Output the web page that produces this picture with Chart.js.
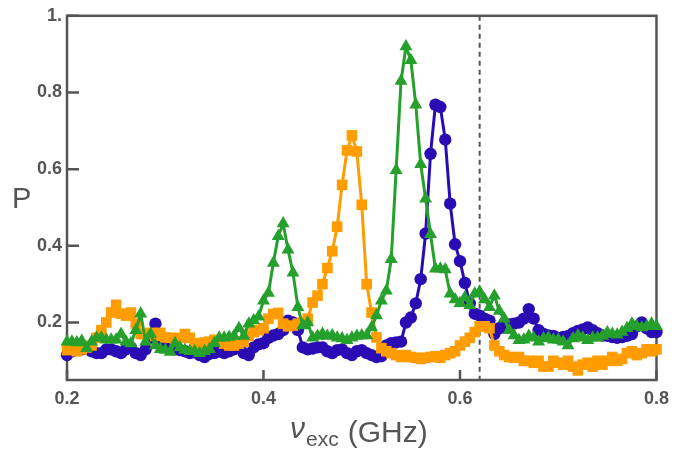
<!DOCTYPE html>
<html>
<head>
<meta charset="utf-8">
<script src="https://cdn.jsdelivr.net/npm/chart.js@4.4.0/dist/chart.umd.min.js"></script>
<style>
  html, body { margin: 0; padding: 0; background: #fff; }
  #wrap { width: 677px; height: 452px; }
</style>
</head>
<body>
<div id="wrap"><canvas id="myChart" width="677" height="452"></canvas></div>
<script>
// excitation frequency (GHz)
const freq = [
  0.200,0.205,0.210,0.215,0.220,0.225,0.230,0.235,0.240,0.245,
  0.250,0.255,0.260,0.265,0.270,0.275,0.280,0.285,0.290,0.295,
  0.300,0.305,0.310,0.315,0.320,0.325,0.330,0.335,0.340,0.345,
  0.350,0.355,0.360,0.365,0.370,0.375,0.380,0.385,0.390,0.395,
  0.400,0.405,0.410,0.415,0.420,0.425,0.430,0.435,0.440,0.445,
  0.450,0.455,0.460,0.465,0.470,0.475,0.480,0.485,0.490,0.495,
  0.500,0.505,0.510,0.515,0.520,0.525,0.530,0.535,0.540,0.545,
  0.550,0.555,0.560,0.565,0.570,0.575,0.580,0.585,0.590,0.595,
  0.600,0.605,0.610,0.615,0.620,0.625,0.630,0.635,0.640,0.645,
  0.650,0.655,0.660,0.665,0.670,0.675,0.680,0.685,0.690,0.695,
  0.700,0.705,0.710,0.715,0.720,0.725,0.730,0.735,0.740,0.745,
  0.750,0.755,0.760,0.765,0.770,0.775,0.780,0.785,0.790,0.795,
  0.800
];

const blueP = [
  0.115,0.125,0.133,0.130,0.133,0.125,0.120,0.120,0.130,0.130,
  0.125,0.120,0.130,0.135,0.120,0.115,0.130,0.160,0.197,0.150,
  0.140,0.133,0.130,0.128,0.125,0.120,0.122,0.115,0.110,0.118,
  0.120,0.125,0.120,0.125,0.130,0.135,0.120,0.115,0.135,0.143,
  0.146,0.160,0.166,0.170,0.180,0.205,0.200,0.180,0.135,0.130,
  0.132,0.135,0.135,0.125,0.120,0.128,0.130,0.120,0.115,0.125,
  0.128,0.120,0.115,0.110,0.112,0.140,0.146,0.148,0.150,0.200,
  0.213,0.250,0.313,0.432,0.640,0.768,0.762,0.677,0.510,0.404,
  0.360,0.303,0.250,0.223,0.218,0.210,0.205,0.170,0.185,0.197,
  0.195,0.197,0.200,0.210,0.235,0.210,0.180,0.170,0.166,0.165,
  0.160,0.162,0.165,0.172,0.178,0.182,0.187,0.180,0.172,0.166,
  0.165,0.162,0.160,0.162,0.165,0.170,0.190,0.200,0.185,0.175,
  0.175
];

const orangeP = [
  0.128,0.130,0.125,0.130,0.135,0.140,0.160,0.180,0.200,0.226,
  0.246,0.223,0.218,0.226,0.197,0.170,0.170,0.173,0.165,0.173,
  0.161,0.160,0.154,0.160,0.170,0.160,0.146,0.140,0.148,0.150,
  0.155,0.150,0.145,0.140,0.140,0.145,0.150,0.165,0.175,0.180,
  0.185,0.210,0.222,0.225,0.197,0.190,0.192,0.197,0.200,0.210,
  0.252,0.270,0.300,0.342,0.386,0.450,0.559,0.649,0.688,0.646,
  0.507,0.300,0.226,0.161,0.133,0.125,0.120,0.115,0.110,0.115,
  0.110,0.108,0.105,0.108,0.110,0.112,0.108,0.115,0.120,0.125,
  0.140,0.150,0.160,0.175,0.190,0.190,0.185,0.140,0.125,0.115,
  0.110,0.108,0.110,0.100,0.100,0.095,0.100,0.085,0.085,0.100,
  0.095,0.090,0.100,0.085,0.075,0.090,0.095,0.085,0.100,0.090,
  0.100,0.110,0.100,0.105,0.120,0.125,0.115,0.120,0.130,0.125,
  0.130
];

const greenP = [
  0.150,0.150,0.148,0.152,0.133,0.150,0.160,0.160,0.155,0.155,
  0.155,0.170,0.150,0.145,0.180,0.223,0.150,0.170,0.140,0.130,
  0.128,0.123,0.146,0.135,0.128,0.125,0.125,0.120,0.125,0.130,
  0.146,0.160,0.160,0.162,0.165,0.185,0.165,0.197,0.205,0.215,
  0.257,0.277,0.355,0.425,0.458,0.390,0.330,0.240,0.192,0.200,
  0.160,0.165,0.170,0.165,0.166,0.160,0.158,0.154,0.160,0.165,
  0.166,0.166,0.187,0.218,0.257,0.283,0.365,0.597,0.830,0.920,
  0.884,0.768,0.613,0.523,0.430,0.340,0.340,0.338,0.275,0.260,
  0.250,0.265,0.245,0.275,0.280,0.260,0.240,0.270,0.230,0.210,
  0.180,0.166,0.154,0.155,0.165,0.160,0.150,0.158,0.160,0.155,
  0.155,0.150,0.140,0.158,0.166,0.160,0.154,0.160,0.160,0.165,
  0.174,0.170,0.168,0.175,0.185,0.197,0.190,0.187,0.190,0.197,
  0.190
];

const xTicks = [0.2, 0.4, 0.6, 0.8];
const yTicks = [0.2, 0.4, 0.6, 0.8, 1.0];
const cutoff = 0.62;

const axisColor = '#555555';

function pts(vals) {
  return freq.map((f, i) => ({ x: f, y: vals[i] }));
}

// frame, inward ticks and the dashed marker line
const framePlugin = {
  id: 'frame',
  beforeDatasetsDraw(chart) {
    const { ctx, chartArea: a, scales } = chart;
    const x = scales.x, y = scales.y;
    ctx.save();
    ctx.strokeStyle = axisColor;
    ctx.lineWidth = 2.5;
    ctx.strokeRect(a.left, a.top, a.right - a.left, a.bottom - a.top);
    ctx.beginPath();
    yTicks.forEach(v => {
      const py = y.getPixelForValue(v);
      ctx.moveTo(a.left, py);
      ctx.lineTo(a.left + 12, py);
    });
    xTicks.forEach(v => {
      const px = x.getPixelForValue(v);
      ctx.moveTo(px, a.bottom);
      ctx.lineTo(px, a.bottom - 10);
    });
    ctx.stroke();

    ctx.setLineDash([5, 4]);
    ctx.lineWidth = 2;
    const cx = x.getPixelForValue(cutoff);
    ctx.beginPath();
    ctx.moveTo(cx, a.top);
    ctx.lineTo(cx, a.bottom);
    ctx.stroke();
    ctx.restore();
  },
  afterDraw(chart) {
    const { ctx } = chart;
    ctx.save();
    ctx.fillStyle = axisColor;
    ctx.textBaseline = 'alphabetic';
    ctx.textAlign = 'left';

    // y label
    ctx.font = '29px "Liberation Sans", Arial, sans-serif';
    ctx.fillText('P', 12, 208);

    // x label: nu_exc (GHz)
    let px = 290;
    ctx.font = 'italic 30px "Liberation Sans", Arial, sans-serif';
    ctx.fillText('ν', px, 438);
    px += ctx.measureText('ν').width + 1;
    ctx.font = '21px "Liberation Sans", Arial, sans-serif';
    ctx.fillText('exc', px, 446);
    px += ctx.measureText('exc').width + 9;
    ctx.font = '30px "Liberation Sans", Arial, sans-serif';
    ctx.fillText('(GHz)', px, 442);
    ctx.restore();
  }
};

const tickFont = { family: '"Liberation Sans", Arial, sans-serif', size: 18, weight: 'bold' };

new Chart(document.getElementById('myChart'), {
  type: 'line',
  data: {
    datasets: [
      {
        data: pts(greenP),
        borderColor: '#26a02c',
        backgroundColor: '#26a02c',
        borderWidth: 3,
        pointStyle: 'triangle',
        pointRadius: 7.5,
        pointBorderWidth: 0
      },
      {
        data: pts(orangeP),
        borderColor: '#ff9c00',
        backgroundColor: '#ff9c00',
        borderWidth: 3,
        pointStyle: 'rect',
        pointRadius: 7.5,
        pointBorderWidth: 0
      },
      {
        data: pts(blueP),
        borderColor: '#2a0cb4',
        backgroundColor: '#2a0cb4',
        borderWidth: 3,
        pointStyle: 'circle',
        pointRadius: 6.2,
        pointBorderWidth: 0
      }
    ]
  },
  options: {
    responsive: false,
    animation: false,
    clip: false,
    layout: { padding: { top: 12, right: 18, left: 0, bottom: 0 } },
    plugins: {
      legend: { display: false },
      tooltip: { enabled: false }
    },
    scales: {
      x: {
        type: 'linear',
        min: 0.2,
        max: 0.8,
        afterBuildTicks: s => { s.ticks = xTicks.map(v => ({ value: v })); },
        afterFit: s => { s.height = 72; },
        grid: { display: false, drawTicks: false },
        border: { display: false },
        ticks: {
          font: tickFont,
          color: axisColor,
          padding: 8,
          maxRotation: 0,
          callback: v => v.toFixed(1)
        }
      },
      y: {
        min: 0.05,
        max: 1.0,
        afterBuildTicks: s => { s.ticks = yTicks.map(v => ({ value: v })); },
        afterFit: s => { s.width = 67; },
        grid: { display: false, drawTicks: false },
        border: { display: false },
        ticks: {
          font: tickFont,
          color: axisColor,
          padding: 5,
          callback: v => (v === 1 ? '1.' : v.toFixed(1))
        }
      }
    }
  },
  plugins: [framePlugin]
});
</script>
</body>
</html>
